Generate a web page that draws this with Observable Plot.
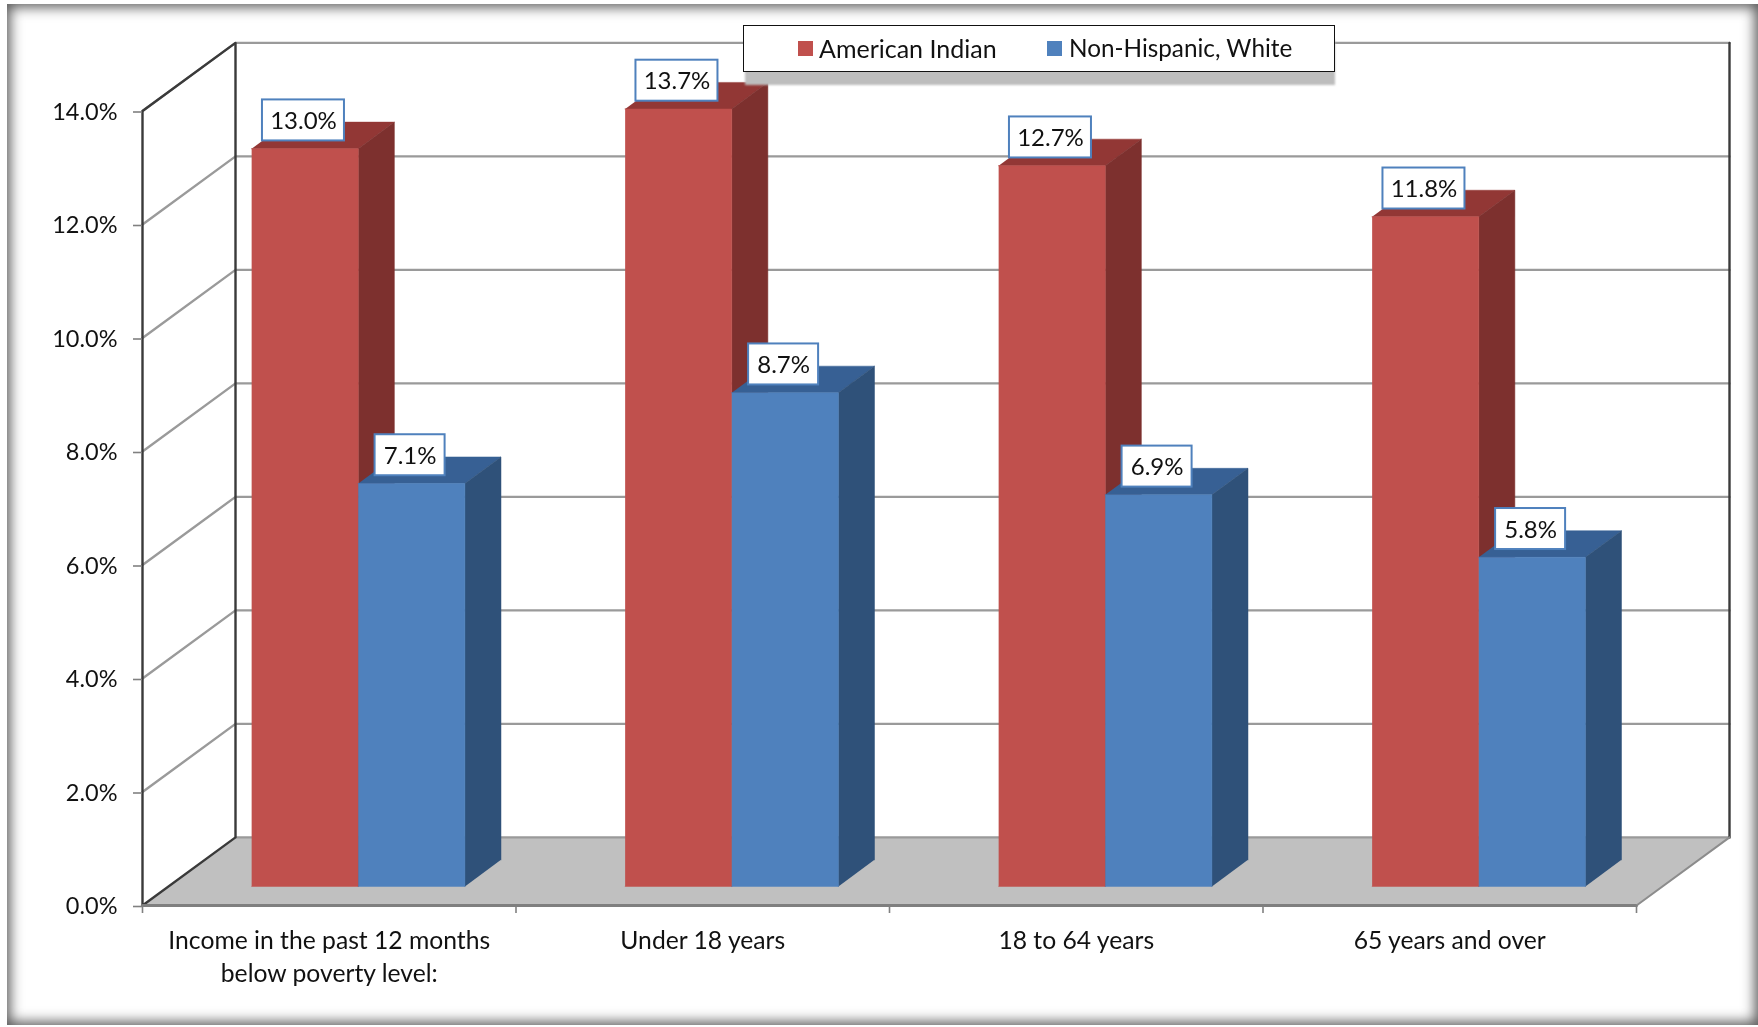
<!DOCTYPE html>
<html><head><meta charset="utf-8">
<script src="https://cdn.jsdelivr.net/npm/d3@7"></script>
<script src="https://cdn.jsdelivr.net/npm/@observablehq/plot@0.6"></script>
<style>
html,body{margin:0;padding:0;background:#fff;overflow:hidden;width:1758px;height:1027px}
#chart{position:absolute;left:0;top:0;width:1758px;height:1027px}
#chart svg{display:block;filter:blur(.45px)}
#frame{position:absolute;left:7px;top:4px;width:1751px;height:1021px;box-shadow:inset 0 0 13px 3px #555;pointer-events:none}
#legendShadow{position:absolute;left:745px;top:40px;width:590px;height:45px;background:#bdbdbd;filter:blur(1px)}
#legend{position:absolute;left:743px;top:25px;width:590px;height:45px;border:1.5px solid #111;background:#fff;font:24.6px Lato,sans-serif;color:#111;filter:blur(.3px)}
#legend span{position:absolute;white-space:nowrap}
#legend i{position:absolute;width:15px;height:15px;top:15px}
</style></head><body>
<div id="chart"></div><div id="frame"></div>
<div id="legendShadow"></div><div id="legend"></div>
<script>
const categories = ["Income in the past 12 months\nbelow poverty level:", "Under 18 years", "18 to 64 years", "65 years and over"];
const seriesNames = ["American Indian", "Non-Hispanic, White"];
const americanIndian = [13.0, 13.7, 12.7, 11.8];
const nonHispanicWhite = [7.1, 8.7, 6.9, 5.8];
const yTicks = [0, 2, 4, 6, 8, 10, 12, 14];
const xTicks = [0, 1, 2, 3, 4];
const colors = {
  red: {front: "#c0504d", side: "#7d302e", top: "#923735"},
  blue: {front: "#4f81bd", side: "#2f5179", top: "#376094"}
};

// oblique projection of the 3-D chart box onto the x / y scales
const depthX = 0.249, depthY = 1.2;
const P = (c, v, d, dy = d) => ({x: c + d * depthX, y: v + dy * depthY});
const baseDepth = 0.28, backDepthX = 0.668, backDepthY = 0.67, labelDepth = 0.695;
const gap = 0.2225, barW = 0.2855;

function face(id, fill, pts) { return pts.map(p => ({id, fill, ...P(...p)})); }
const faces = [];
[[americanIndian, 0, colors.red], [nonHispanicWhite, 1, colors.blue]].forEach(([vals, s, col]) => {
  vals.forEach((v, i) => {
    const c0 = i + gap + s * barW, c1 = c0 + barW;
    faces.push(...face(`s${s}${i}top`, col.top, [[c0,v,baseDepth],[c1,v,baseDepth],[c1,v,backDepthX,backDepthY],[c0,v,backDepthX,backDepthY]]));
    faces.push(...face(`s${s}${i}side`, col.side, [[c1,0,baseDepth],[c1,v,baseDepth],[c1,v,backDepthX,backDepthY],[c1,0,backDepthX,backDepthY]]));
    faces.push(...face(`s${s}${i}front`, col.front, [[c0,0,baseDepth],[c1,0,baseDepth],[c1,v,baseDepth],[c0,v,baseDepth]]));
  });
});

const floor = face("floor", "#c0c0c0", [[0,0,0],[4,0,0],[4,0,1],[0,0,1]]);
const grid = yTicks.flatMap(v => face("g"+v, "", v === 0 ? [[0,v,1],[4,v,1]] : [[0,v,0],[0,v,1],[4,v,1]]));

const dark = [
  ...face("a", "", [[0,0,0],[0,14,0],[0,14,1],[0,0,1],[0,0,0]]),
  ...face("b", "", [[4,0,1],[4,14,1]])
];
const floorEdge = face("f", "", [[0,0,0],[4,0,0]]);
const floorSide = face("r", "", [[4,0,0],[4,0,1]]);

// data labels sit over the back edge of each bar top
const pxW = 1 / 373.5, pxH = 1 / 56.75;
const labels = [[americanIndian,0],[nonHispanicWhite,1]].flatMap(([vals,s]) => vals.map((v,i) => {
  const text = v.toFixed(1) + "%";
  const cx = i + gap + (s + .5) * barW + baseDepth * depthX - 1.5 * pxW;
  const cy = v + labelDepth * depthY;
  const w = (text.length > 4 ? 82 : 70) * pxW, h = 41 * pxH;
  return {text, cx, cy, x1: cx - w/2, x2: cx + w/2, y1: cy - h/2, y2: cy + h/2};
}));

const font = "Lato, sans-serif";
const chart = Plot.plot({
  width: 1758, height: 1027,
  marginLeft: 142, marginRight: 122, marginTop: 110.5, marginBottom: 122,
  x: {type: "linear", domain: [0, 4], range: [142, 1636]},
  y: {type: "linear", domain: [0, 14], range: [905, 110.5]},
  style: {fontFamily: font, background: "transparent", overflow: "visible"},
  marks: [
    Plot.line(floor, {x: "x", y: "y", z: "id", fill: "#c0c0c0", stroke: "none"}),
    Plot.line(grid, {x: "x", y: "y", z: "id", stroke: "#9a9a9a", strokeWidth: 2.4, curve: "linear"}),
    Plot.line(dark, {x: "x", y: "y", z: "id", stroke: "#3a3a3a", strokeWidth: 2.4}),
    Plot.line(floorEdge, {x: "x", y: "y", z: "id", stroke: "#7f7f7f", strokeWidth: 3}),
    Plot.line(floorSide, {x: "x", y: "y", z: "id", stroke: "#8c8c8c", strokeWidth: 2}),
    ...Array.from(new Set(faces.map(f => f.id))).map(id => {
      const pts = faces.filter(f => f.id === id);
      return Plot.line(pts, {x: "x", y: "y", fill: pts[0].fill, stroke: pts[0].fill, strokeWidth: .5});
    }),
    Plot.axisY({ticks: yTicks, tickSize: 9, tickPadding: 16, tickFormat: d => d.toFixed(1) + "%", fontSize: 23.5, dy: 1, stroke: "#808080", fill: "#111", label: null, strokeWidth: 1.6}),
    Plot.axisX({ticks: xTicks, tickSize: 8, tickFormat: () => "", stroke: "#808080", label: null, strokeWidth: 1.6}),
    Plot.text(categories, {x: (d, i) => i + .5, y: () => -0.32, text: d => d, lineAnchor: "top", lineHeight: 1.33, fontSize: 24.7, dy: 2, fill: "#111"}),
    Plot.rect(labels, {x1: "x1", x2: "x2", y1: "y1", y2: "y2", fill: "#fff", stroke: "#4f81bd", strokeWidth: 2}),
    Plot.text(labels, {x: "cx", y: "cy", text: "text", fontSize: 24, dy: 1, fill: "#111"})
  ]
});
document.getElementById("chart").append(chart);

const leg = document.getElementById("legend");
const swatches = [{n: seriesNames[0], c: colors.red.front, sx: 54, tx: 75, fs: "25px"}, {n: seriesNames[1], c: colors.blue.front, sx: 303, tx: 325, fs: "24.3px"}];
swatches.forEach(s => {
  const i = document.createElement("i"); i.style.left = s.sx + "px"; i.style.background = s.c; leg.append(i);
  const t = document.createElement("span"); t.textContent = s.n; t.style.left = s.tx + "px"; t.style.top = "7px"; t.style.fontSize = s.fs; leg.append(t);
});
</script></body></html>
